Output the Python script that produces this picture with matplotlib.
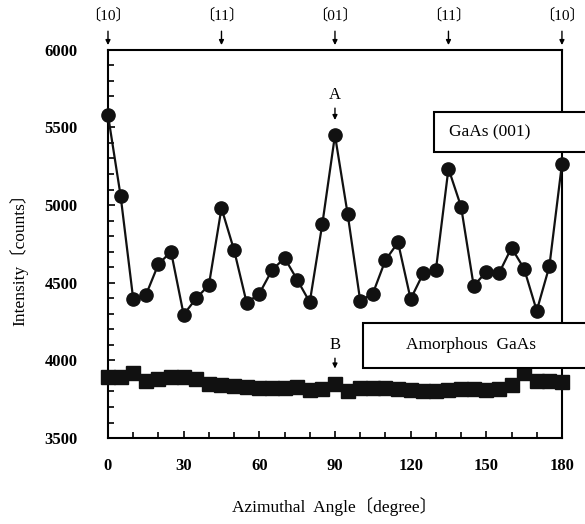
import numpy as np
import matplotlib
matplotlib.use('Agg')
import matplotlib.pyplot as plt
from matplotlib.patches import Rectangle
from matplotlib.ticker import MultipleLocator

plt.rcParams['font.family'] = ['Liberation Serif', 'Noto Sans CJK JP']

# azimuthal angle (degree)
angle = np.arange(0, 181, 5)

# GaAs(001) crystalline intensity (counts)
gaas_001 = [5580, 5060, 4395, 4420, 4620, 4700, 4295, 4400, 4485, 4980,
            4710, 4370, 4430, 4580, 4660, 4520, 4375, 4880, 5450, 4945,
            4385, 4430, 4645, 4760, 4395, 4560, 4580, 5235, 4990, 4480,
            4570, 4560, 4725, 4590, 4320, 4605, 5265]

# amorphous GaAs intensity (counts)
amorphous = [3890, 3895, 3920, 3870, 3880, 3890, 3890, 3880, 3850, 3840,
             3835, 3830, 3820, 3820, 3825, 3830, 3810, 3815, 3850, 3805,
             3825, 3825, 3820, 3815, 3810, 3805, 3805, 3810, 3815, 3815,
             3810, 3815, 3840, 3920, 3870, 3865, 3860]

# crystal directions marked on the top edge
dir_pos = [0, 45, 90, 135, 180]
dir_labels = ['〔10〕', '〔11〕', '〔01〕', '〔11〕', '〔10〕']

fig = plt.figure(figsize=(5.85, 5.24), dpi=100)
ax = fig.add_axes([0.1846, 0.164, 0.776, 0.741])

ax.plot(angle, gaas_001, '-o', color='#111111', lw=1.6, ms=9.5, clip_on=False, zorder=3)
ax.plot(angle, amorphous, '-s', color='#111111', lw=1.6, ms=10, clip_on=False, zorder=3)

ax.set_xlim(0, 180)
ax.set_ylim(3500, 6000)
ax.xaxis.set_major_locator(MultipleLocator(30))
ax.xaxis.set_minor_locator(MultipleLocator(10))
ax.yaxis.set_major_locator(MultipleLocator(500))
ax.yaxis.set_minor_locator(MultipleLocator(100))
ax.tick_params(which='both', direction='in', top=False, right=False, width=1.2, labelsize=12)
ax.tick_params(which='major', length=5)
ax.tick_params(which='minor', length=4)
ax.tick_params(axis='y', pad=22)
ax.tick_params(axis='x', pad=14)
for lab in ax.get_yticklabels() + ax.get_xticklabels():
    lab.set_fontweight('bold')
for s in ax.spines.values():
    s.set_linewidth(1.5)

ax.set_xlabel('Azimuthal  Angle〔degree〕', fontsize=12.5, labelpad=17)
ax.set_ylabel('Intensity〔counts〕', fontsize=12.5)
ax.yaxis.set_label_coords(-0.175, 0.47)

# direction markers above the frame
for p, t in zip(dir_pos, dir_labels):
    ax.annotate('', xy=(p, 1.005), xycoords=('data', 'axes fraction'),
                xytext=(p, 1.055), textcoords=('data', 'axes fraction'),
                arrowprops=dict(arrowstyle='-|>', color='black', lw=1, mutation_scale=7))
    ax.text(p, 1.07, t, transform=ax.get_xaxis_transform(), ha='center', va='bottom', fontsize=11)

# peak labels A and B
ax.annotate('A', xy=(90, 5530), xytext=(90, 5660), ha='center', va='bottom', fontsize=12,
            arrowprops=dict(arrowstyle='-|>', color='black', lw=1, mutation_scale=7))
ax.annotate('B', xy=(90, 3930), xytext=(90, 4050), ha='center', va='bottom', fontsize=12,
            arrowprops=dict(arrowstyle='-|>', color='black', lw=1, mutation_scale=7))

# sample name boxes (run past the right edge)
ax.add_patch(Rectangle((129.1, 5340), 80, 260, facecolor='white', edgecolor='black',
                       lw=1.5, clip_on=False, zorder=5))
ax.text(151.5, 5470, 'GaAs (001)', ha='center', va='center', fontsize=12.5, zorder=6)
ax.add_patch(Rectangle((101.3, 3952), 110, 290, facecolor='white', edgecolor='black',
                       lw=1.5, clip_on=False, zorder=5))
ax.text(144, 4097, 'Amorphous  GaAs', ha='center', va='center', fontsize=12.5, zorder=6)

fig.savefig('out.png', dpi=100)
